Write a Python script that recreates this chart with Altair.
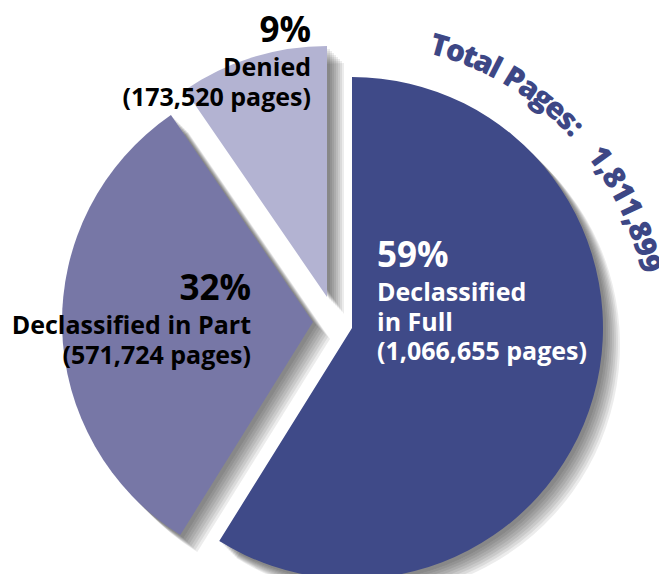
import math
import altair as alt
import pandas as pd

# ---------------- data ----------------
categories = ["Declassified in Full", "Declassified in Part", "Denied"]
pages = [1066655, 571724, 173520]
percent_labels = ["59%", "32%", "9%"]
label_lines = [
    ["Declassified", "in Full", "(1,066,655 pages)"],
    ["Declassified in Part", "(571,724 pages)"],
    ["Denied", "(173,520 pages)"],
]
total_pages = 1811899
title_text = "Total Pages:"
total_text = "1,811,899"

# ---------------- style ----------------
W, H = 651, 566
colors = ["#3f4a88", "#7777a6", "#b3b3d2"]
text_colors = ["white", "black", "black"]
centers = [(344, 320), (305, 314), (319, 289)]      # exploded slice centres (px)
R = 251
label_anchor = [(369, 259, "left"), (243, 292, "right"), (303, 34, "right")]
PCT_SIZE, LBL_SIZE = 35, 25
FIRST_GAP, LINE_GAP = 34, 29.5
shadow_offsets = [3, 5, 7, 9, 11, 13, 15, 17]
FONT = "Open Sans"
NAVY = "#3d4785"
ARC_C, ARC_R, ARC_START, ARC_FS, ARC_ADV = (351, 326), 298, 15.6, 30, 29.6
char_w = {"T": .561, "o": .604, "t": .418, "a": .586, "l": .295, " ": .27, "P": .617,
          "g": .55, "e": .575, "s": .495, ":": .303, ",": .286}

# ---------------- slices ----------------
starts = [sum(pages[:i]) for i in range(len(pages))]
slices = pd.DataFrame({
    "category": categories,
    "start": starts,
    "end": [s + p for s, p in zip(starts, pages)],
    "cx": [c[0] for c in centers],
    "cy": [c[1] for c in centers],
    "color": colors,
})

theta_scale = alt.Scale(domain=[0, total_pages], range=[0, 2 * math.pi])

shadow_rows = []
for _, r in slices.iterrows():
    for k in shadow_offsets:
        shadow_rows.append({"start": r["start"], "end": r["end"],
                            "cx": r["cx"] + k, "cy": r["cy"] + k})
shadows = pd.DataFrame(shadow_rows)

shadow_layer = alt.Chart(shadows).mark_arc(radius=R, color="black", opacity=0.075).encode(
    x=alt.X("cx:Q", scale=None, axis=None),
    y=alt.Y("cy:Q", scale=None, axis=None),
    theta=alt.Theta("start:Q", scale=theta_scale, stack=False),
    theta2="end:Q",
)

slice_layer = alt.Chart(slices).mark_arc(radius=R).encode(
    x=alt.X("cx:Q", scale=None, axis=None),
    y=alt.Y("cy:Q", scale=None, axis=None),
    theta=alt.Theta("start:Q", scale=theta_scale, stack=False),
    theta2="end:Q",
    color=alt.Color("color:N", scale=None),
)

# ---------------- labels ----------------
label_layers = []
for i in range(len(categories)):
    ax, ay, align = label_anchor[i]
    pct_df = pd.DataFrame({"t": [percent_labels[i]], "x": [ax], "y": [ay]})
    label_layers.append(
        alt.Chart(pct_df).mark_text(align=align, baseline="alphabetic", font=FONT,
                                    fontWeight="bold", fontSize=PCT_SIZE,
                                    color=text_colors[i]).encode(
            x=alt.X("x:Q", scale=None, axis=None),
            y=alt.Y("y:Q", scale=None, axis=None),
            text="t:N")
    )
    ys = [ay + FIRST_GAP + j * LINE_GAP for j in range(len(label_lines[i]))]
    ln_df = pd.DataFrame({"t": label_lines[i], "x": [ax] * len(ys), "y": ys})
    label_layers.append(
        alt.Chart(ln_df).mark_text(align=align, baseline="alphabetic", font=FONT,
                                   fontWeight="bold", fontSize=LBL_SIZE,
                                   color=text_colors[i]).encode(
            x=alt.X("x:Q", scale=None, axis=None),
            y=alt.Y("y:Q", scale=None, axis=None),
            text="t:N")
    )

# ---------------- curved total text ----------------
arc_string = title_text + "   " + total_text
adv = 0.0
centers_em = []
for ch in arc_string:
    w = char_w.get(ch, 0.572)
    centers_em.append(adv + w / 2)
    adv += w
rows = []
for ch, c in zip(arc_string, centers_em):
    th = ARC_START + math.degrees((c - centers_em[0]) * ARC_ADV / ARC_R)
    rad = math.radians(th)
    rows.append({"ch": ch,
                 "x": ARC_C[0] + ARC_R * math.sin(rad),
                 "y": ARC_C[1] - ARC_R * math.cos(rad),
                 "rot": th})
arc_df = pd.DataFrame(rows)
arc_text = alt.Chart(arc_df).mark_text(align="center", baseline="middle", font=FONT,
                                       fontWeight=800, fontSize=ARC_FS,
                                       color=NAVY).encode(
    x=alt.X("x:Q", scale=None, axis=None),
    y=alt.Y("y:Q", scale=None, axis=None),
    text="ch:N",
    angle=alt.Angle("rot:Q", scale=None),
)

chart = alt.layer(shadow_layer, slice_layer, *label_layers, arc_text).properties(
    width=W, height=H, padding=0, autosize="none"
).configure_view(strokeWidth=0)

chart.save("out.html", embed_options={"renderer": "svg", "actions": False})
